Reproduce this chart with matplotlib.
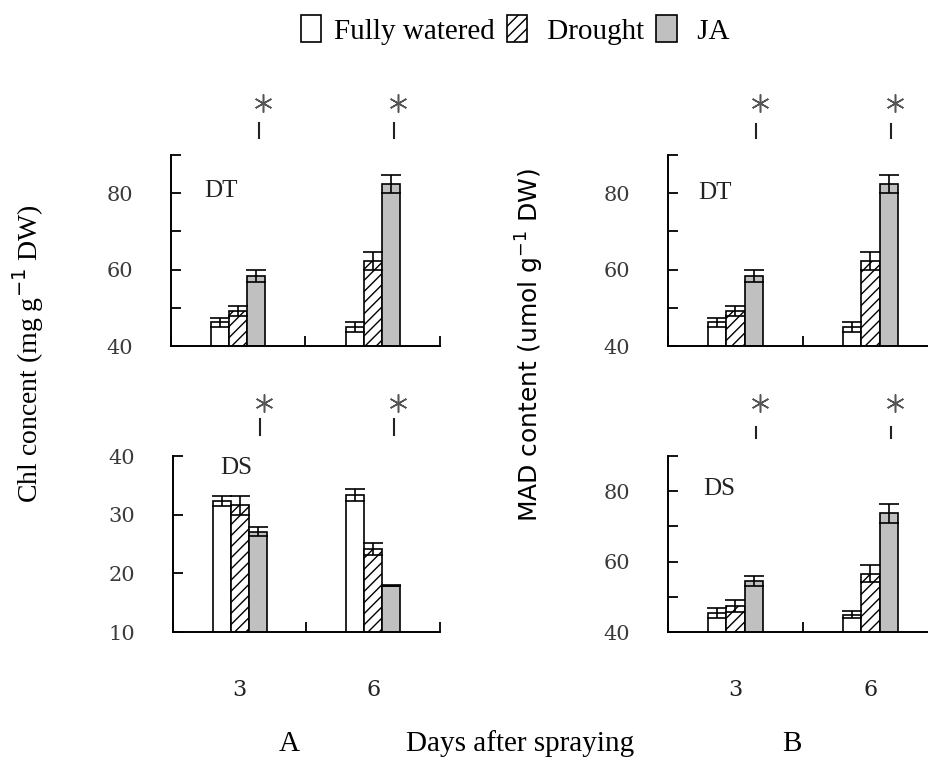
import matplotlib.pyplot as plt
import matplotlib.transforms as mtransforms
import numpy as np
from matplotlib.patches import Patch

days = ['3', '6']
treatments = ['Fully watered', 'Drought', 'JA']

# Chl concent, DT (rows: Fully watered, Drought, JA; cols: day 3, day 6)
chl_dt = [[46.2, 45.0], [49.2, 62.3], [58.3, 82.4]]
chl_dt_err = [[1.1, 1.3], [1.4, 2.3], [1.6, 2.4]]
# Chl concent, DS
chl_ds = [[32.3, 33.3], [31.6, 24.1], [27.1, 17.9]]
chl_ds_err = [[0.9, 1.0], [1.6, 1.0], [0.8, 0.1]]
# MAD content, DT
mad_dt = [[46.2, 45.0], [49.2, 62.3], [58.3, 82.4]]
mad_dt_err = [[1.1, 1.3], [1.4, 2.3], [1.6, 2.4]]
# MAD content, DS
mad_ds = [[45.4, 44.9], [47.4, 56.6], [54.6, 73.7]]
mad_ds_err = [[1.4, 1.0], [1.7, 2.3], [1.4, 2.6]]

fills = ['white', 'white', '#c0c0c0']
hatches = [None, '///', None]
width = 0.135

plt.rcParams['font.family'] = 'Liberation Serif'
plt.rcParams['hatch.linewidth'] = 1.0

fig = plt.figure(figsize=(9.29, 7.59), dpi=100)
W, H = 929, 759


def add_ax(l, r, t, b):
    return fig.add_axes([l / W, 1 - b / H, (r - l) / W, (b - t) / H])


def panel(ax, means, errs, ylim, yticks, ylabels, tag, tag_xy, line_y, star_y, xlabels=False):
    x = np.arange(len(days)) + 0.5
    for i in range(3):
        ax.bar(x + (i - 1) * width, means[i], width, yerr=errs[i],
               color=fills[i], hatch=hatches[i], edgecolor='black', linewidth=1.2,
               capsize=7, error_kw=dict(elinewidth=1.2, capthick=1.2, ecolor='black'))
    ax.set_xlim(0, 2)
    ax.set_ylim(*ylim)
    ax.set_xticks([0, 1, 2])
    ax.set_xticklabels([])
    ax.set_yticks(yticks)
    ax.set_yticklabels(ylabels, fontfamily='DejaVu Serif', fontsize=15, color='#3a3a3a')
    ax.tick_params(direction='in', length=7, width=1.3)
    ax.tick_params(axis='y', pad=27)
    for s in ['top', 'right']:
        ax.spines[s].set_visible(False)
    for s in ['left', 'bottom']:
        ax.spines[s].set_linewidth(1.4)
    ax.text(tag_xy[0], tag_xy[1], tag, fontsize=18, ha='center', va='center',
            color='#222222', transform=ax.transAxes)

    # significance marks above the JA bars
    trans = mtransforms.blended_transform_factory(ax.transData, ax.transAxes)
    for xi in x + width:
        ax.plot([xi + 0.02, xi + 0.02], line_y, color='#222222', lw=1.5,
                transform=trans, clip_on=False)
        ax.plot([xi + 0.05], [star_y], marker=(6, 2, 0), markersize=13, mew=1.1,
                color='#555555', transform=trans, clip_on=False)

    if xlabels:
        for xi, d in zip(x, days):
            ax.text(xi, -0.33, d, fontsize=16, ha='center', va='center',
                    fontfamily='DejaVu Serif', color='#222222', transform=trans)


ax1 = add_ax(171, 440, 155, 346)
panel(ax1, chl_dt, chl_dt_err, (40, 90), np.arange(40, 91, 10),
      ['40', '', '60', '', '80', ''], 'DT', (0.185, 0.81), (1.09, 1.17), 1.27)

ax2 = add_ax(173, 440, 456, 632)
panel(ax2, chl_ds, chl_ds_err, (10, 40), [10, 20, 30, 40],
      ['10', '20', '30', '40'], 'DS', (0.235, 0.93), (1.12, 1.21), 1.30, xlabels=True)

ax3 = add_ax(668, 938, 155, 346)
panel(ax3, mad_dt, mad_dt_err, (40, 90), np.arange(40, 91, 10),
      ['40', '', '60', '', '80', ''], 'DT', (0.175, 0.80), (1.09, 1.16), 1.27)

ax4 = add_ax(668, 938, 456, 632)
panel(ax4, mad_ds, mad_ds_err, (40, 90), np.arange(40, 91, 10),
      ['40', '', '60', '', '80', ''], 'DS', (0.19, 0.81), (1.10, 1.165), 1.30, xlabels=True)

fig.text(28 / W, 1 - 354 / H, 'Chl concent (mg g$^{-1}$ DW)', rotation=90,
         fontsize=20, ha='center', va='center')
fig.text(530 / W, 1 - 345 / H, 'MAD content (umol g$^{-1}$ DW)', rotation=90,
         fontfamily='DejaVu Sans', fontsize=18, ha='center', va='center')

fig.text(289 / W, 1 - 744 / H, 'A', fontsize=21, ha='center', va='center')
fig.text(520 / W, 1 - 744 / H, 'Days after spraying', fontsize=21, ha='center', va='center')
fig.text(792 / W, 1 - 744 / H, 'B', fontsize=21, ha='center', va='center')

handles = [Patch(facecolor=fills[i], edgecolor='black', hatch=hatches[i], linewidth=1.2)
           for i in range(3)]
fig.legend(handles, ['Fully watered', ' Drought', ' JA'], loc='center',
           bbox_to_anchor=(515 / W, 1 - 30 / H), ncol=3, frameon=False, fontsize=21,
           handlelength=0.7, handleheight=1.0, handletextpad=0.45, columnspacing=0.4)

fig.savefig('out.png', dpi=100)
